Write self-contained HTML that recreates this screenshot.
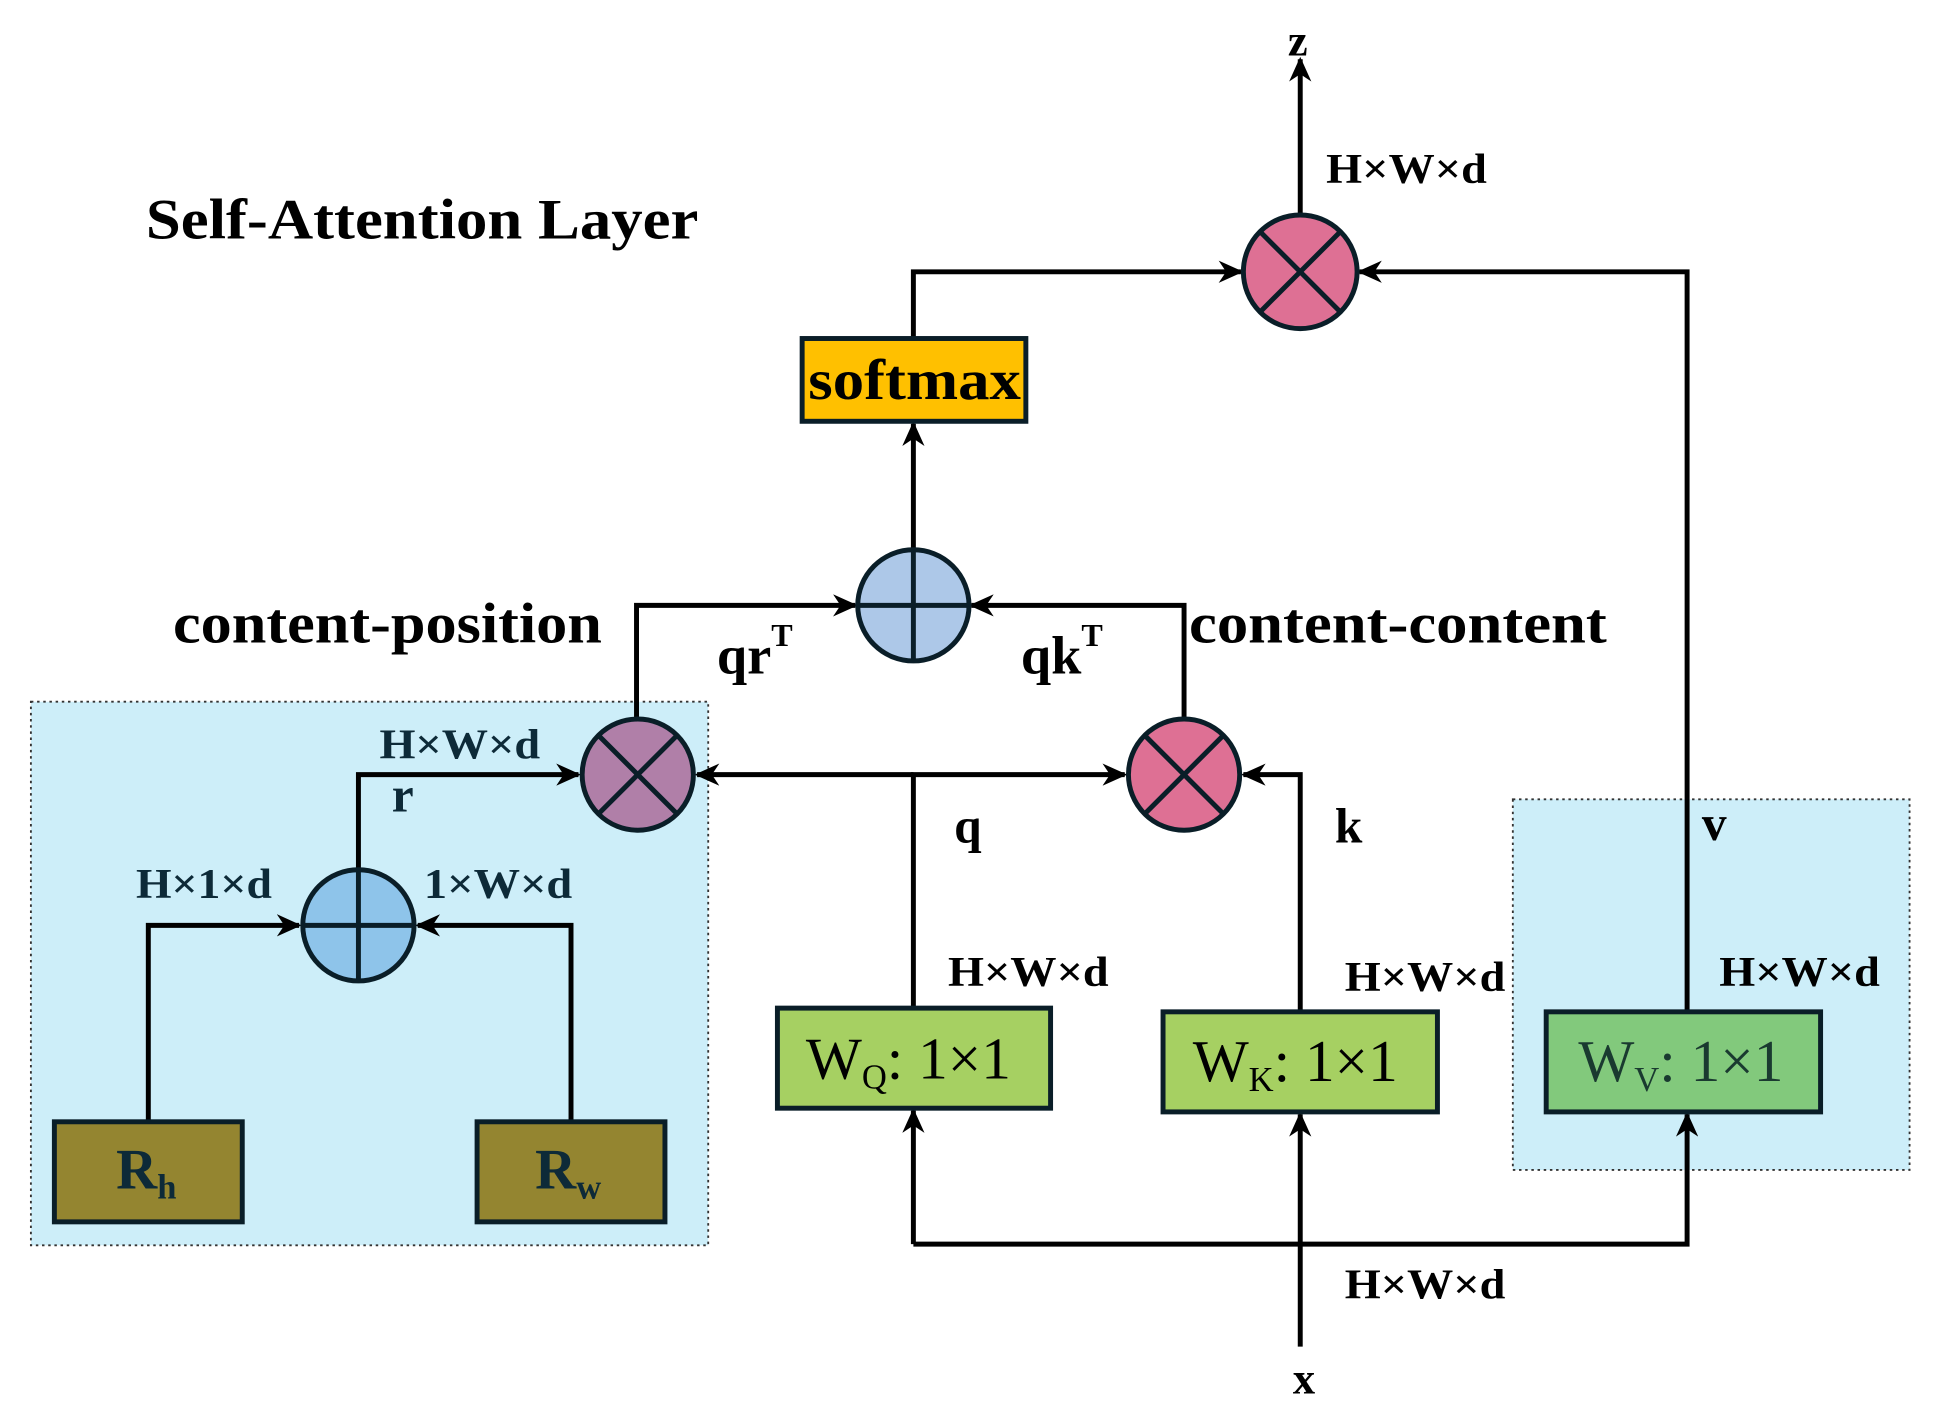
<!DOCTYPE html>
<html><head><style>html,body{margin:0;padding:0;background:#fff}svg{display:block}</style></head>
<body>
<svg width="1938" height="1422" viewBox="0 0 1568 1151" preserveAspectRatio="none" xmlns="http://www.w3.org/2000/svg" font-family="Liberation Serif, serif" font-weight="bold">
<defs>
<marker id="a" markerWidth="20" markerHeight="18" refX="18" refY="9" orient="auto" markerUnits="userSpaceOnUse" viewBox="0 0 20 18"><path d="M0,0 L20,9 L0,18 L6,9 z" fill="#000"/></marker>
</defs>
<rect x="25" y="568" width="548" height="440" fill="#cdeef9" stroke="#333" stroke-width="1.5" stroke-dasharray="2,3"/>
<rect x="1224" y="647" width="321" height="300" fill="#cdeef9" stroke="#333" stroke-width="1.5" stroke-dasharray="2,3"/>
<g stroke="#000" stroke-width="4" fill="none">
<path d="M1052 174 V48" marker-end="url(#a)"/>
<path d="M739 274 V220 H1004" marker-end="url(#a)"/>
<path d="M1365 818 V220 H1100" marker-end="url(#a)"/>
<path d="M739 445 V343" marker-end="url(#a)"/>
<path d="M515 581 V490 H692" marker-end="url(#a)"/>
<path d="M958 581 V490 H786" marker-end="url(#a)"/>
<path d="M739 816 V627 H910" marker-end="url(#a)"/>
<path d="M739 627 H564" marker-end="url(#a)"/>
<path d="M1052 819 V627 H1006" marker-end="url(#a)"/>
<path d="M290 704 V627 H468" marker-end="url(#a)"/>
<path d="M120 908 V749 H242" marker-end="url(#a)"/>
<path d="M462 908 V749 H338" marker-end="url(#a)"/>
<path d="M739 1007 V899" marker-end="url(#a)"/>
<path d="M739 1007 H1365 V902" marker-end="url(#a)"/>
<path d="M1052 1090 V902" marker-end="url(#a)"/>
</g>
<g stroke="#0a1e28" stroke-width="4">
<circle cx="1052" cy="220" r="46" fill="#de7094"/>
<path d="M1019 187 L1085 253 M1085 187 L1019 253"/>
<circle cx="516" cy="627" r="45" fill="#b07fa8"/>
<path d="M484 595 L548 659 M548 595 L484 659"/>
<circle cx="958" cy="627" r="45" fill="#de7094"/>
<path d="M926 595 L990 659 M990 595 L926 659"/>
<circle cx="739" cy="490" r="45" fill="#adc8e8"/>
<path d="M739 445 V535 M694 490 H784"/>
<circle cx="290" cy="749" r="45" fill="#8ec4ea"/>
<path d="M290 704 V794 M245 749 H335"/>
<rect x="649" y="274" width="181" height="67" fill="#ffc000"/>
<rect x="44" y="908" width="152" height="81" fill="#948530"/>
<rect x="386" y="908" width="152" height="81" fill="#948530"/>
<rect x="629" y="816" width="221" height="81" fill="#a6d062"/>
<rect x="941" y="819" width="222" height="81" fill="#a6d062"/>
<rect x="1251" y="819" width="222" height="81" fill="#82c97c"/>
</g>
<g fill="#000">
<text x="118" y="193" font-size="46" textLength="447" lengthAdjust="spacingAndGlyphs">Self-Attention Layer</text>
<text x="1042" y="45" font-size="36">z</text>
<text x="1073" y="148" font-size="34" textLength="130" lengthAdjust="spacingAndGlyphs">H×W×d</text>
<text x="654" y="323" font-size="46" textLength="172" lengthAdjust="spacingAndGlyphs">softmax</text>
<text x="140" y="520" font-size="46" textLength="347" lengthAdjust="spacingAndGlyphs">content-position</text>
<text x="962" y="520" font-size="46" textLength="338" lengthAdjust="spacingAndGlyphs">content-content</text>
<text x="580" y="545" font-size="44">qr<tspan font-size="26" dy="-22">T</tspan></text>
<text x="826" y="545" font-size="44">qk<tspan font-size="26" dy="-22">T</tspan></text>
<text x="772" y="682" font-size="40">q</text>
<text x="1080" y="682" font-size="40">k</text>
<text x="1377" y="680" font-size="40">v</text>
<text x="767" y="798" font-size="34" textLength="130" lengthAdjust="spacingAndGlyphs">H×W×d</text>
<text x="1088" y="802" font-size="34" textLength="130" lengthAdjust="spacingAndGlyphs">H×W×d</text>
<text x="1391" y="798" font-size="34" textLength="130" lengthAdjust="spacingAndGlyphs">H×W×d</text>
<text x="1088" y="1051" font-size="34" textLength="130" lengthAdjust="spacingAndGlyphs">H×W×d</text>
<text x="1046" y="1128" font-size="36">x</text>
<text x="652" y="873" font-size="48" font-weight="normal">W<tspan font-size="28" dy="8">Q</tspan><tspan dy="-8">: 1×1</tspan></text>
<text x="965" y="875" font-size="48" font-weight="normal">W<tspan font-size="28" dy="8">K</tspan><tspan dy="-8">: 1×1</tspan></text>
<text x="1277" y="875" font-size="48" font-weight="normal" fill="#1a3a30">W<tspan font-size="28" dy="8">V</tspan><tspan dy="-8">: 1×1</tspan></text>
</g>
<g fill="#0d2a38">
<text x="307" y="614" font-size="34" textLength="130" lengthAdjust="spacingAndGlyphs">H×W×d</text>
<text x="317" y="657" font-size="40">r</text>
<text x="110" y="727" font-size="34" textLength="110" lengthAdjust="spacingAndGlyphs">H×1×d</text>
<text x="343" y="727" font-size="34" textLength="120" lengthAdjust="spacingAndGlyphs">1×W×d</text>
<text x="94" y="962" font-size="46">R<tspan font-size="28" dy="8">h</tspan></text>
<text x="433" y="962" font-size="46">R<tspan font-size="28" dy="8">w</tspan></text>
</g>
</svg>
</body></html>
